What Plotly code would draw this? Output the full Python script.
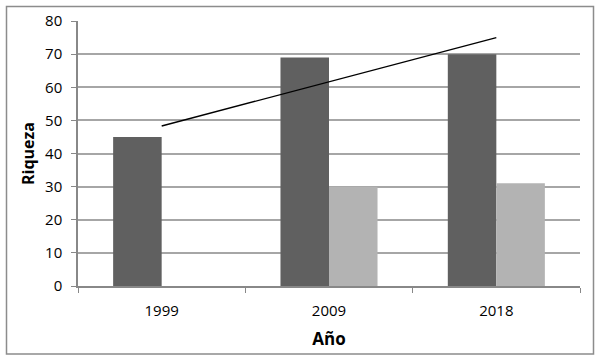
import plotly.graph_objects as go

years = ["1999", "2009", "2018"]
serie_oscura = [45, 69, 70]
serie_clara = [None, 30, 31]
tendencia_x = ["1999", "2018"]
tendencia_y = [48.3, 75]
y_ticks = [0, 10, 20, 30, 40, 50, 60, 70, 80]

fig = go.Figure()
fig.add_trace(go.Bar(x=years, y=serie_oscura, marker=dict(color="#606060", line=dict(width=0)), showlegend=False))
fig.add_trace(go.Bar(x=years, y=serie_clara, marker=dict(color="#b3b3b3", line=dict(width=0)), showlegend=False))
fig.add_trace(go.Scatter(x=tendencia_x, y=tendencia_y, mode="lines", line=dict(color="black", width=1.4), showlegend=False))

L, R, T, B = 78, 20, 21, 75
W, H = 600, 361
pw, ph = W - L - R, H - T - B

def px_x(x):
    return (x - L) / pw

def px_y(y):
    return (H - B - y) / ph

fig.update_layout(
    width=W, height=H,
    margin=dict(l=L, r=R, t=T, b=B, pad=0, autoexpand=False),
    paper_bgcolor="white", plot_bgcolor="white",
    barmode="group", bargap=0.42, bargroupgap=0,
    font=dict(family="Open Sans", size=15, color="black"),
    xaxis=dict(
        type="category", tickson="boundaries", ticks="outside", ticklen=5, tickcolor="#888888",
        showline=True, linecolor="#888888", linewidth=1.5, showgrid=False,
        ticklabelstandoff=10,
        title=dict(text="<b>Año</b>", font=dict(size=17), standoff=14),
        tickfont=dict(size=15),
    ),
    yaxis=dict(
        range=[0, 80], tickvals=y_ticks, ticks="outside", ticklen=5, tickcolor="#888888",
        showline=True, linecolor="#888888", linewidth=1.5,
        showgrid=True, gridcolor="#a6a6a6", gridwidth=1.5, zeroline=False,
        ticklabelstandoff=6,
        title=dict(text="<b>Riqueza</b>", font=dict(size=16), standoff=6),
        tickfont=dict(size=15),
    ),
    shapes=[dict(type="rect", xref="paper", yref="paper",
                 x0=px_x(6.5), x1=px_x(593.5), y0=px_y(354), y1=px_y(6.5),
                 line=dict(color="#8c8c8c", width=1.5), layer="below")],
)

fig.write_html("out.html")
